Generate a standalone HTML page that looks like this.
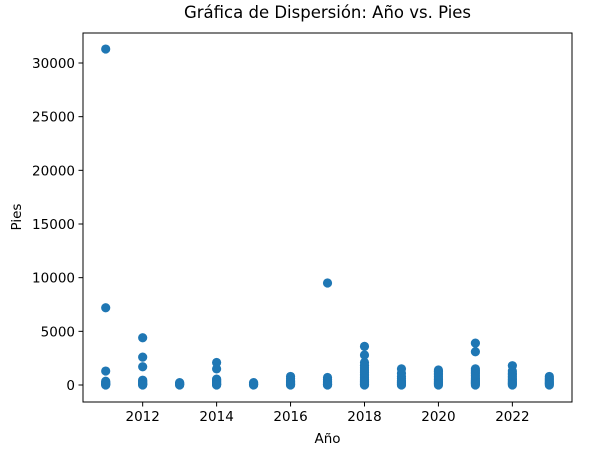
<!DOCTYPE html>
<html><head><meta charset="utf-8"><style>
body{margin:0;background:#fff;}
svg{display:block;font-family:"DejaVu Sans","Liberation Sans",sans-serif;}
</style></head><body>
<svg id="chart" width="589" height="455">
<text x="327.5" y="18" text-anchor="middle" font-size="16.5" fill="#000">Gráfica de Dispersión: Año vs. Pies</text>
<text x="327.5" y="443" text-anchor="middle" font-size="13.5" fill="#000">Año</text>
<text x="0" y="0" transform="translate(21,217) rotate(-90)" text-anchor="middle" font-size="13.5" fill="#000">Pies</text>
<g id="marks"></g>
<g id="axes"></g>
</svg>
<script>
const years = [2011,2012,2013,2014,2015,2016,2017,2018,2019,2020,2021,2022,2023];
const pies = [
 [31300,7200,1300,350,250,150,80,30,0],
 [4400,2600,1700,450,350,250,150,80,30,0],
 [220,150,80,30,0],
 [2100,1500,550,450,350,250,150,80,30,0],
 [220,150,80,30,0],
 [800,600,400,300,200,100,40,0],
 [9500,700,500,350,250,150,80,30,0],
 [3600,2800,2100,1800,1600,1400,1200,1000,850,700,550,400,300,200,100,40,0],
 [1500,1100,800,600,400,250,150,50,0],
 [1400,1250,1100,950,800,650,500,350,200,100,0],
 [3900,3100,1500,1350,1200,1050,900,750,600,450,300,200,100,0],
 [1800,1300,1100,950,800,650,500,350,200,100,0],
 [800,650,500,350,200,100,0]
];
const xTicks = [2012,2014,2016,2018,2020,2022];
const yTicks = [0,5000,10000,15000,20000,25000,30000];
const L=83,R=572,T=33,B=402;
const xs = v => 105.7 + (v-2011)*36.97;
const ys = v => 385 - v*(322/30000);
const NS="http://www.w3.org/2000/svg";
const marks=document.getElementById('marks'), axes=document.getElementById('axes');
years.forEach((yr,i)=>{
  pies[i].forEach(v=>{
    const c=document.createElementNS(NS,'circle');
    c.setAttribute('cx',xs(yr));c.setAttribute('cy',ys(v));c.setAttribute('r',4.6);c.setAttribute('fill','#1f77b4');
    
    
    marks.appendChild(c);
  });
});
const fr=document.createElementNS(NS,'rect');
fr.setAttribute('x',L);fr.setAttribute('y',T);fr.setAttribute('width',R-L);fr.setAttribute('height',B-T);
fr.setAttribute('fill','none');fr.setAttribute('stroke','#000');fr.setAttribute('stroke-width','1');


axes.appendChild(fr);
function line(x1,y1,x2,y2){const l=document.createElementNS(NS,'line');l.setAttribute('x1',x1);l.setAttribute('y1',y1);l.setAttribute('x2',x2);l.setAttribute('y2',y2);l.setAttribute('stroke','#000');


axes.appendChild(l);}
function text(x,y,s,anchor){const t=document.createElementNS(NS,'text');t.setAttribute('x',x);t.setAttribute('y',y);t.setAttribute('text-anchor',anchor);t.setAttribute('font-size','13.5');t.textContent=s;


axes.appendChild(t);}
xTicks.forEach(v=>{const x=xs(v);line(x,B,x,B+4.5);text(x,B+19,String(v),'middle');});
yTicks.forEach(v=>{const y=ys(v);line(L-4.5,y,L,y);text(L-8,y+5,String(v),'end');});
</script>
</body></html>
